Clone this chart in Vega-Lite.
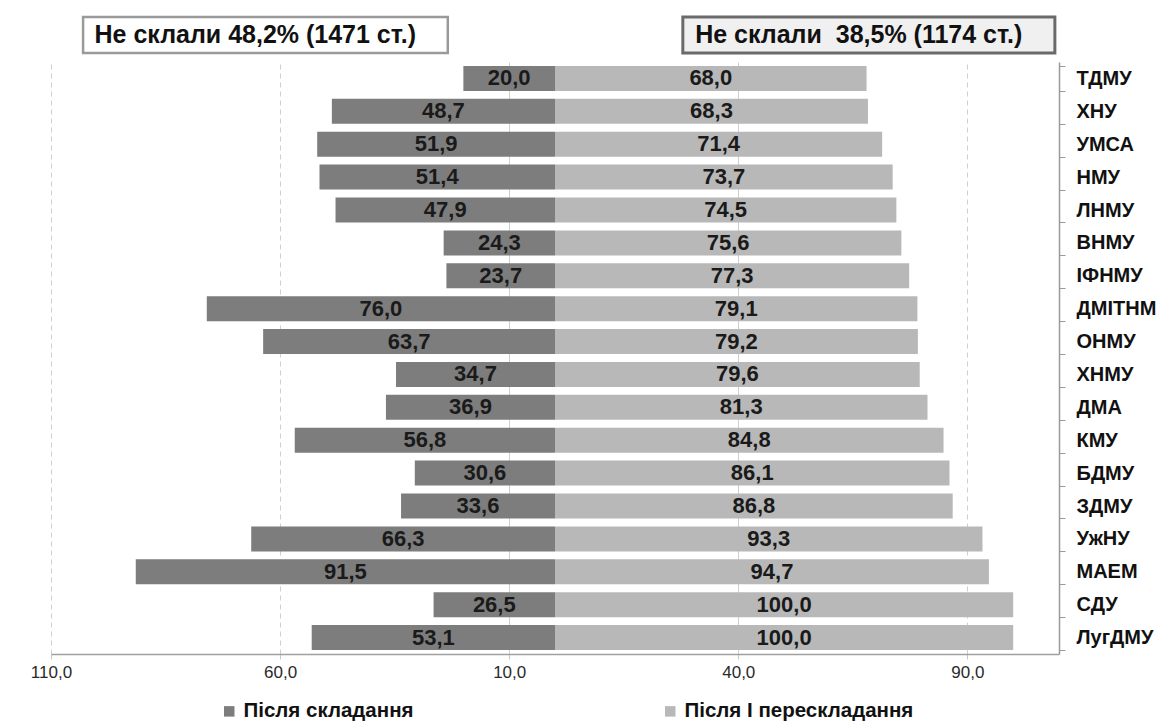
{
  "$schema": "https://vega.github.io/schema/vega-lite/v6.json",
  "background": "#ffffff",
  "padding": {"left": 30, "top": 15, "right": 2, "bottom": 0},
  "spacing": -3,
  "config": {
    "locale": {"number": {"decimal": ",", "thousands": " ", "grouping": [3], "currency": ["", ""]}},
    "view": {"stroke": null},
    "font": "Liberation Sans"
  },
  "datasets": {
    "unis": [
      {"uni": "ТДМУ", "exam": 20.0, "retake": 68.0},
      {"uni": "ХНУ", "exam": 48.7, "retake": 68.3},
      {"uni": "УМСА", "exam": 51.9, "retake": 71.4},
      {"uni": "НМУ", "exam": 51.4, "retake": 73.7},
      {"uni": "ЛНМУ", "exam": 47.9, "retake": 74.5},
      {"uni": "ВНМУ", "exam": 24.3, "retake": 75.6},
      {"uni": "ІФНМУ", "exam": 23.7, "retake": 77.3},
      {"uni": "ДМІТНМ", "exam": 76.0, "retake": 79.1},
      {"uni": "ОНМУ", "exam": 63.7, "retake": 79.2},
      {"uni": "ХНМУ", "exam": 34.7, "retake": 79.6},
      {"uni": "ДМА", "exam": 36.9, "retake": 81.3},
      {"uni": "КМУ", "exam": 56.8, "retake": 84.8},
      {"uni": "БДМУ", "exam": 30.6, "retake": 86.1},
      {"uni": "ЗДМУ", "exam": 33.6, "retake": 86.8},
      {"uni": "УжНУ", "exam": 66.3, "retake": 93.3},
      {"uni": "МАЕМ", "exam": 91.5, "retake": 94.7},
      {"uni": "СДУ", "exam": 26.5, "retake": 100.0},
      {"uni": "ЛугДМУ", "exam": 53.1, "retake": 100.0}
    ]
  },
  "vconcat": [
    {
      "width": 1008,
      "height": 36,
      "data": {"values": [{"left": "Не склали 48,2% (1471 ст.)", "right": "Не склали \u00a038,5% (1174 ст.)"}]},
      "layer": [
        {
          "mark": {"type": "rect", "fill": "#ffffff", "stroke": "#9a9a9a", "strokeWidth": 2.5},
          "encoding": {
            "x": {"datum": -103, "type": "quantitative", "scale": {"domain": [-110, 110]}, "axis": null},
            "x2": {"datum": -23.4}
          }
        },
        {
          "mark": {"type": "rect", "fill": "#f0f0f0", "stroke": "#6a6a6a", "strokeWidth": 3},
          "encoding": {
            "x": {"datum": 27.9, "type": "quantitative", "scale": {"domain": [-110, 110]}, "axis": null},
            "x2": {"datum": 109.1}
          }
        },
        {
          "mark": {"type": "text", "align": "left", "baseline": "middle", "fontSize": 25, "fontWeight": "bold", "color": "#111111"},
          "encoding": {
            "x": {"datum": -100.5, "type": "quantitative", "scale": {"domain": [-110, 110]}, "axis": null},
            "text": {"field": "left"}
          }
        },
        {
          "mark": {"type": "text", "align": "left", "baseline": "middle", "fontSize": 25, "fontWeight": "bold", "color": "#111111"},
          "encoding": {
            "x": {"datum": 30.6, "type": "quantitative", "scale": {"domain": [-110, 110]}, "axis": null},
            "text": {"field": "right"}
          }
        }
      ]
    },
    {
      "width": 1008,
      "height": 592,
      "data": {"name": "unis"},
      "encoding": {
        "y": {
          "field": "uni",
          "type": "nominal",
          "sort": null,
          "scale": {"paddingInner": 0.24, "paddingOuter": 0.12},
          "axis": {
            "orient": "right",
            "title": null,
            "domainColor": "#9a9a9a",
            "domainWidth": 1.5,
            "tickColor": "#9a9a9a",
            "tickSize": 6,
            "tickBand": "extent",
            "labelFont": "Liberation Sans",
            "labelFontWeight": "bold",
            "labelFontSize": 20,
            "labelColor": "#111111",
            "labelPadding": 11
          }
        }
      },
      "layer": [
        {
          "mark": {"type": "bar"},
          "encoding": {
            "x": {
              "field": "retake",
              "type": "quantitative",
              "scale": {"domain": [-110, 110]},
              "axis": {
                "orient": "bottom",
                "title": null,
                "values": [-110, -60, -10, 40, 90],
                "labelExpr": "replace(format(abs(datum.value), '.1f'), '.', ',')",
                "labelFlush": false,
                "labelFont": "Liberation Sans",
                "labelFontSize": 17,
                "labelColor": "#2a2a2a",
                "labelPadding": 5,
                "domainColor": "#a0a0a0",
                "domainWidth": 1.5,
                "tickColor": "#c8c8c8",
                "tickSize": 5,
                "grid": true,
                "gridColor": "#cfcfcf",
                "gridDash": {"condition": {"test": "abs(datum.value) > 50", "value": [5, 4]}, "value": []}
              }
            },
            "x2": {"datum": 0},
            "color": {
              "datum": "Після І перескладання",
              "type": "nominal",
              "scale": {"domain": ["Після складання", "Після І перескладання"], "range": ["#7d7d7d", "#b8b8b8"]},
              "legend": {
                "orient": "none",
                "legendX": 168,
                "legendY": 684,
                "direction": "horizontal",
                "title": null,
                "symbolType": "square",
                "symbolSize": 110,
                "symbolStrokeWidth": 0,
                "columnPadding": 246,
                "labelFont": "Liberation Sans",
                "labelFontWeight": "bold",
                "labelFontSize": 20.5,
                "labelColor": "#111111",
                "labelLimit": 400
              }
            }
          }
        },
        {
          "mark": {"type": "bar"},
          "encoding": {
            "x": {"field": "exam", "type": "quantitative", "scale": {"domain": [-110, 110], "reverse": true}, "axis": null},
            "x2": {"datum": 0},
            "color": {"datum": "Після складання", "type": "nominal"}
          }
        },
        {
          "mark": {"type": "text", "align": "center", "baseline": "middle", "fontSize": 22, "fontWeight": "bold", "color": "#1a1a1a"},
          "encoding": {
            "x": {"field": "exam", "type": "quantitative", "scale": {"domain": [-220, 220], "reverse": true}, "axis": null},
            "text": {"field": "exam", "type": "quantitative", "format": ".1f"}
          }
        },
        {
          "mark": {"type": "text", "align": "center", "baseline": "middle", "fontSize": 22, "fontWeight": "bold", "color": "#1a1a1a"},
          "encoding": {
            "x": {"field": "retake", "type": "quantitative", "scale": {"domain": [-220, 220]}, "axis": null},
            "text": {"field": "retake", "type": "quantitative", "format": ".1f"}
          }
        }
      ],
      "resolve": {"scale": {"x": "independent"}, "axis": {"x": "independent"}}
    }
  ]
}
